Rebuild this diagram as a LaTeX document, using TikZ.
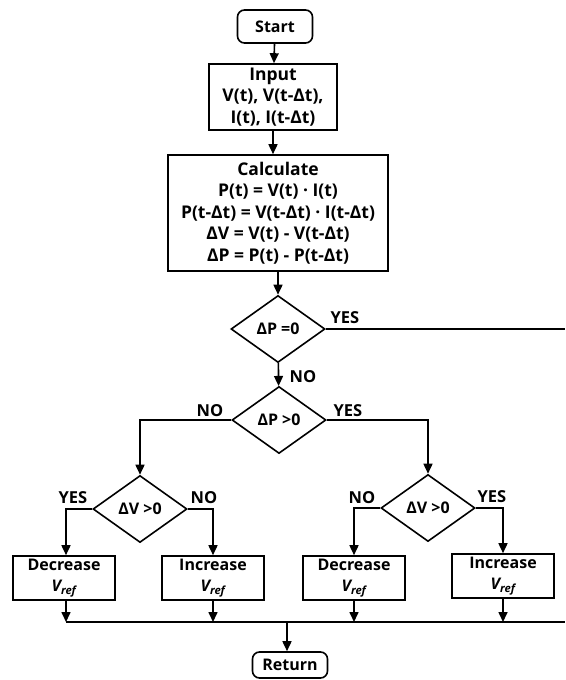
\documentclass[tikz,border=0pt]{standalone}
\usepackage{fontspec}
\setmainfont{Open Sans}
\usetikzlibrary{shapes.geometric,arrows.meta}
\begin{document}
\begin{tikzpicture}[x=1pt,y=-1pt,
  font=\fontsize{16}{21}\selectfont\bfseries,
  line width=1.6pt,
  every node/.style={inner sep=0pt},
  proc/.style={draw,rectangle,align=center},
  big/.style={font=\fontsize{17.5}{21.5}\selectfont\bfseries},
  term/.style={draw,rectangle,rounded corners=7pt},
  dec/.style={draw,diamond,minimum width=94,minimum height=67},
  lbl/.style={font=\fontsize{16.5}{18}\selectfont\bfseries},
  arr/.style={-{Triangle[length=10pt,width=9pt]}}
]
\useasboundingbox (0,0) rectangle (565,680);
\node[term,minimum width=75,minimum height=33] (start) at (275,26.5) {Start};
\node[proc,big,minimum width=128,minimum height=66] (input) at (273,97) {Input\\V(t), V(t-Δt),\\I(t), I(t-Δt)};
\node[proc,big,minimum width=220,minimum height=116] (calc) at (278,213) {Calculate\\P(t) = V(t) · I(t)\\P(t-Δt) = V(t-Δt) · I(t-Δt)\\ΔV = V(t) - V(t-Δt)\\ΔP = P(t) - P(t-Δt)};
\node[dec] (d0) at (278,329) {ΔP =0};
\node[dec] (d1) at (279,420) {ΔP >0};
\node[dec] (dl) at (140,509) {ΔV >0};
\node[dec] (dr) at (428,508) {ΔV >0};
\node[proc,minimum width=102,minimum height=44] (decl) at (64,578) {Decrease\\\textit{V\textsubscript{ref}}};
\node[proc,minimum width=102,minimum height=44] (incl) at (213,578) {Increase\\\textit{V\textsubscript{ref}}};
\node[proc,minimum width=102,minimum height=44] (decr) at (354,578) {Decrease\\\textit{V\textsubscript{ref}}};
\node[proc,minimum width=102,minimum height=44] (incr) at (503,576) {Increase\\\textit{V\textsubscript{ref}}};
\node[term,minimum width=75,minimum height=26] (ret) at (290,665) {Return};
% labels
\node[lbl] (y0) at (345,318) {YES};
\node[lbl] (n0) at (303,377) {NO};
\node[lbl] (n1) at (210,411) {NO};
\node[lbl] (y1) at (348,411) {YES};
\node[lbl] (yl) at (73,498) {YES};
\node[lbl] (nl) at (204,498) {NO};
\node[lbl] (nr) at (362,498) {NO};
\node[lbl] (yr) at (492,497) {YES};
% coordinates
\coordinate (eR) at (565,329);
\coordinate (bL) at (66,622);
\coordinate (bR) at (565,622);
\coordinate (rj) at (287,622);
% connectors
\draw[arr] (start) -- (input);
\draw[arr] (input) -- (calc.north -| input);
\draw[arr] (calc.south -| d0) -- (d0);
\draw (d0.east) -- (eR);
\draw[arr] (d0) -- (d1);
\draw[arr] (d1.west) -| (dl.north);
\draw[arr] (d1.east) -| (dr.north);
\draw[arr] (dl.west) -| (bL |- decl.north);
\draw[arr] (dl.east) -| (incl.north);
\draw[arr] (dr.west) -| (decr.north);
\draw[arr] (dr.east) -| (incr.north);
\draw (bL) -- (bR);
\draw[arr] (decl.south -| bL) -- (bL);
\draw[arr] (incl.south) -- (incl.south |- bL);
\draw[arr] (decr.south) -- (decr.south |- bL);
\draw[arr] (incr.south) -- (incr.south |- bL);
\draw[arr] (rj) -- (ret.north -| rj);
\end{tikzpicture}
\end{document}
